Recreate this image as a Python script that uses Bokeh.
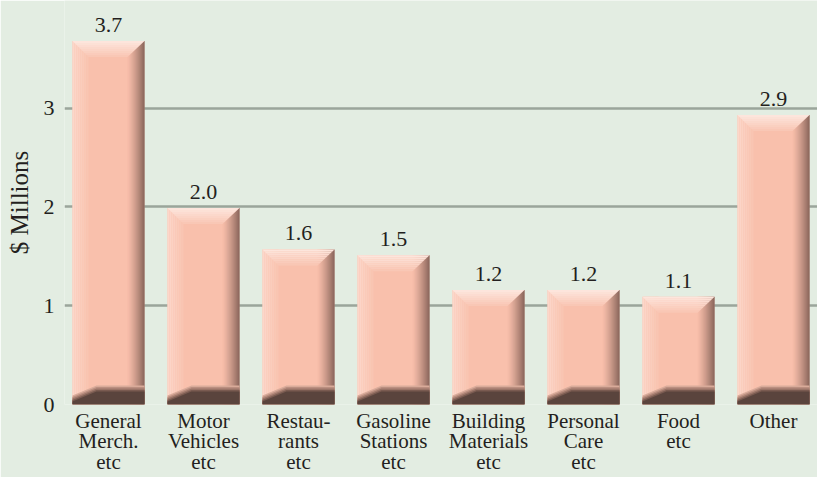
import numpy as np
from bokeh.plotting import figure
from bokeh.models import Range1d, FixedTicker
from bokeh.core.properties import value
from bokeh.embed import file_html
from bokeh.resources import INLINE

# ---- data ----
categories = ["General\nMerch.\netc", "Motor\nVehicles\netc", "Restau-\nrants\netc",
              "Gasoline\nStations\netc", "Building\nMaterials\netc", "Personal\nCare\netc",
              "Food\netc", "Other"]
values = [3.68, 1.99, 1.57, 1.51, 1.16, 1.16, 1.09, 2.93]
value_labels = ["3.7", "2.0", "1.6", "1.5", "1.2", "1.2", "1.1", "2.9"]
y_ticks = [0, 1, 2, 3]
y_title = "$ Millions"

# ---- style ----
BG = "#e3ede2"
FONT = "Liberation Serif"
TXT = "#231f20"
W, H = 817, 477
ML, MB = 64, 72
X0, X1 = -0.463, 7.463
Y0, Y1 = 0.0, 4.09
PXX = (W - ML) / (X1 - X0)   # px per x unit
PXY = (H - MB) / (Y1 - Y0)   # px per y unit

p = figure(width=W, height=H, output_backend="svg", toolbar_location=None,
           x_range=Range1d(X0, X1), y_range=Range1d(Y0, Y1))
p.min_border_left = ML
p.min_border_right = 0
p.min_border_top = 0
p.min_border_bottom = MB
p.background_fill_color = BG
p.border_fill_color = BG
p.outline_line_color = None

n = len(values)
xc = np.arange(n, dtype=float)

xa = p.xaxis[0]
xa.ticker = FixedTicker(ticks=list(range(n)))
xa.major_label_overrides = {i: c for i, c in enumerate(categories)}
xa.axis_line_color = None
xa.major_tick_line_color = None
xa.minor_tick_line_color = None
xa.major_tick_out = 0
xa.major_tick_in = 0
xa.major_label_standoff = 4
xa.major_label_text_font = FONT
xa.major_label_text_font_size = "21px"
xa.major_label_text_color = TXT
xa.major_label_text_line_height = 0.87

p.xgrid.grid_line_color = None
p.ygrid.ticker = FixedTicker(ticks=y_ticks)
p.ygrid.grid_line_color = "#9ba59b"
p.ygrid.grid_line_width = 2.5

ya = p.yaxis[0]
ya.ticker = FixedTicker(ticks=y_ticks)
ya.axis_line_color = None
ya.major_tick_line_color = None
ya.minor_tick_line_color = None
ya.major_tick_out = 0
ya.major_tick_in = 0
ya.major_label_text_font = FONT
ya.major_label_text_font_size = "22px"
ya.major_label_text_color = TXT
ya.major_label_standoff = 10
ya.axis_label = y_title
ya.axis_label_text_font = FONT
ya.axis_label_text_font_size = "25px"
ya.axis_label_text_font_style = "normal"
ya.axis_label_text_color = TXT
ya.axis_label_standoff = 8

v = np.array(values)
hw = 36 / PXX
L = xc - hw
R = xc + hw


def hex2rgb(h):
    h = h.lstrip("#")
    return np.array([int(h[i:i + 2], 16) for i in (0, 2, 4)], dtype=float)


def lerp(c0, c1, t):
    a, b = hex2rgb(c0), hex2rgb(c1)
    c = a + (b - a) * t
    return "#%02x%02x%02x" % tuple(int(round(x)) for x in c)


# base body
p.quad(left=L, right=R, bottom=0, top=v, fill_color="#f9c0ac", line_color=None)

# left light strip
nl = 8
lw_px = 16
for k in range(nl):
    t = k / (nl - 1)
    col = lerp("#fcd7ca", "#f9c5b2", t)
    p.quad(left=L + k * lw_px / nl / PXX, right=L + (k + 1) * lw_px / nl / PXX,
           bottom=0, top=v, fill_color=col, line_color=None)

# right dark gradient
nr = 17
rw_px = 17
for k in range(nr):
    t = ((k + 0.5) / nr) ** 1.3
    col = lerp("#f7bda9", "#654841", t)
    x0 = R - rw_px / PXX + k * rw_px / nr / PXX
    p.quad(left=x0, right=x0 + rw_px / nr / PXX,
           bottom=0, top=v, fill_color=col, line_color=None)

# top light band (mitered)
th = 16.0
lw_m = 16.0
rw_m = 17.0
nb = 8
for j in range(nb):
    d0 = th * j / nb
    d1 = th * (j + 1) / nb
    col = lerp("#fde5dc", "#f9c7b5", j / (nb - 1))
    xs, ys = [], []
    for i in range(n):
        xs.append([L[i] + lw_m * d0 / th / PXX, R[i] - rw_m * d0 / th / PXX,
                   R[i] - rw_m * d1 / th / PXX, L[i] + lw_m * d1 / th / PXX])
        ys.append([v[i] - d0 / PXY, v[i] - d0 / PXY, v[i] - d1 / PXY, v[i] - d1 / PXY])
    p.patches(xs=xs, ys=ys, fill_color=col, line_color=None)

# bottom dark band (soft edge layers)
bh = 13.0
layers = [(6.0, "#d9ab9a"), (4.5, "#bb8f80"), (3.0, "#9b7568"), (1.5, "#7a5b51"), (0.0, "#5a443d")]
for extra, col in layers:
    xs, ys = [], []
    h = (bh + extra) / PXY
    for i in range(n):
        xs.append([L[i], R[i], R[i], L[i] + 24 / PXX, L[i]])
        ys.append([0, 0, h, h, (3 + extra) / PXY])
    p.patches(xs=xs, ys=ys, fill_color=col, line_color=None)

# value labels
p.text(x=xc, y=v, text=value_labels, text_align="center", text_baseline="alphabetic",
       y_offset=-16, text_font=value(FONT), text_font_size="22px", text_color=TXT)

open("out.html", "w").write(file_html(p, INLINE, title="Sales by category"))
